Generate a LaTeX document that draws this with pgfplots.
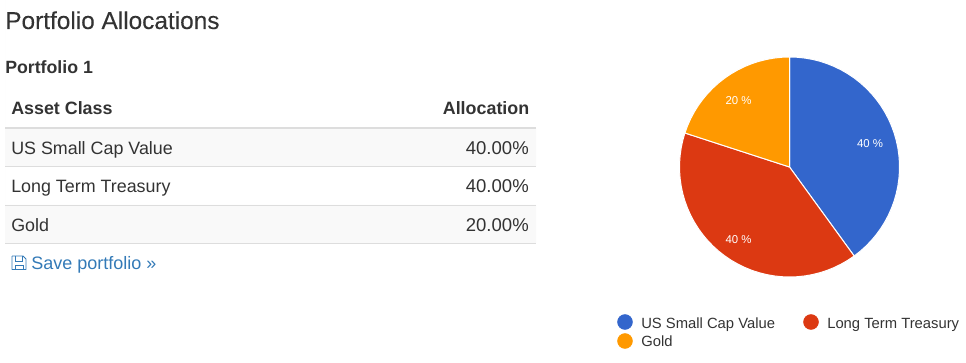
\documentclass[border=0pt]{standalone}
\usepackage{pgfplots}
\pgfplotsset{compat=1.18}
\usepackage{fontspec}
\setmainfont{Liberation Sans}
\newfontfamily\titlefont[FakeBold=0.12]{Liberation Sans}
\usepgfplotslibrary{polar}
\definecolor{txt}{HTML}{333333}
\definecolor{lnk}{HTML}{337AB7}
\definecolor{rule}{HTML}{DDDDDD}
\definecolor{stripe}{HTML}{F9F9F9}
\definecolor{pblue}{HTML}{3366CC}
\definecolor{pred}{HTML}{DC3912}
\definecolor{pgold}{HTML}{FF9900}
\newcommand{\fs}[1]{\fontsize{#1pt}{#1pt}\selectfont}
\begin{document}
\begin{tikzpicture}
\useasboundingbox (0,0) rectangle (724.5pt,272.25pt);
\begin{axis}[name=page,at={(0,0)},anchor=south west,scale only axis,width=724.5pt,height=272.25pt,
  xmin=0,xmax=966,ymin=0,ymax=363,y dir=reverse,hide axis,clip=false]
% table stripes
\addplot[draw=none,fill=stripe] coordinates {(5,128) (536,128) (536,166) (5,166)} \closedcycle;
\addplot[draw=none,fill=stripe] coordinates {(5,205) (536,205) (536,243) (5,243)} \closedcycle;
% rules
\addplot[rule,line width=1.5pt] coordinates {(5,128) (536,128)};
\addplot[rule,line width=0.75pt] coordinates {(5,166.5) (536,166.5)};
\addplot[rule,line width=0.75pt] coordinates {(5,205.5) (536,205.5)};
\addplot[rule,line width=0.75pt] coordinates {(5,243.5) (536,243.5)};
% texts
\node[anchor=base west,inner sep=0,text=txt,font=\titlefont\fs{18.3}] at (axis cs:5,29) {Portfolio Allocations};
\node[anchor=base west,inner sep=0,text=txt,font=\fs{13.3}\bfseries] at (axis cs:5,73.5) {Portfolio 1};
\node[anchor=base west,inner sep=0,text=txt,font=\fs{13.4}\bfseries] at (axis cs:11,115) {Asset Class};
\node[anchor=base east,inner sep=0,text=txt,font=\fs{13.4}\bfseries] at (axis cs:529.5,115) {Allocation};
\node[anchor=base west,inner sep=0,text=txt,font=\fs{13.4}] at (axis cs:11,155) {US Small Cap Value};
\node[anchor=base east,inner sep=0,text=txt,font=\fs{13.9}] at (axis cs:529,155) {40.00\%};
\node[anchor=base west,inner sep=0,text=txt,font=\fs{13.4}] at (axis cs:11,193) {Long Term Treasury};
\node[anchor=base east,inner sep=0,text=txt,font=\fs{13.9}] at (axis cs:529,193) {40.00\%};
\node[anchor=base west,inner sep=0,text=txt,font=\fs{13.4}] at (axis cs:11,231.5) {Gold};
\node[anchor=base east,inner sep=0,text=txt,font=\fs{13.9}] at (axis cs:529,231.5) {20.00\%};
\node[anchor=base west,inner sep=0,text=lnk,font=\fs{13.5}] at (axis cs:31,269) {Save portfolio »};
% floppy icon
\addplot[lnk,line width=0.7pt,line join=round] coordinates {(12,256) (23,256) (26,259) (26,269.5) (12,269.5) (12,256)};
\addplot[lnk,line width=0.7pt] coordinates {(15,256) (15,261) (22,261) (22,256)};
\addplot[lnk,line width=0.7pt] coordinates {(15,269.5) (15,265) (23,265) (23,269.5)};
% legend
\addplot[only marks,mark=*,mark size=5.6pt,color=pblue,mark options={draw=none}] coordinates {(625,322)};
\addplot[only marks,mark=*,mark size=5.6pt,color=pred,mark options={draw=none}] coordinates {(811,322)};
\addplot[only marks,mark=*,mark size=5.6pt,color=pgold,mark options={draw=none}] coordinates {(625,341)};
\node[anchor=base west,inner sep=0,text=txt,font=\fs{11.1}] at (axis cs:641,328) {US Small Cap Value};
\node[anchor=base west,inner sep=0,text=txt,font=\fs{11.1}] at (axis cs:827,328) {Long Term Treasury};
\node[anchor=base west,inner sep=0,text=txt,font=\fs{11.1}] at (axis cs:641,346.5) {Gold};
\end{axis}
\begin{axis}[at={(0,0)},anchor=south west,scale only axis,width=724.5pt,height=272.25pt,
  xmin=-789.5,xmax=176.5,ymin=-196,ymax=167,hide axis,clip=false]
\addplot[data cs=polar,fill=pblue,draw=white,line width=0.75pt,line join=round] coordinates {(0,0)
 (90,110)(86,110)(82,110)(78,110)(74,110)(70,110)(66,110)(62,110)(58,110)(54,110)(50,110)(46,110)(42,110)
 (38,110)(34,110)(30,110)(26,110)(22,110)(18,110)(14,110)(10,110)(6,110)(2,110)(-2,110)(-6,110)(-10,110)
 (-14,110)(-18,110)(-22,110)(-26,110)(-30,110)(-34,110)(-38,110)(-42,110)(-46,110)(-50,110)(-54,110)(0,0)};
\addplot[data cs=polar,fill=pred,draw=white,line width=0.75pt,line join=round] coordinates {(0,0)
 (-54,110)(-58,110)(-62,110)(-66,110)(-70,110)(-74,110)(-78,110)(-82,110)(-86,110)(-90,110)(-94,110)(-98,110)
 (-102,110)(-106,110)(-110,110)(-114,110)(-118,110)(-122,110)(-126,110)(-130,110)(-134,110)(-138,110)(-142,110)
 (-146,110)(-150,110)(-154,110)(-158,110)(-162,110)(-166,110)(-170,110)(-174,110)(-178,110)(-182,110)(-186,110)
 (-190,110)(-194,110)(-198,110)(0,0)};
\addplot[data cs=polar,fill=pgold,draw=white,line width=0.75pt,line join=round] coordinates {(0,0)
 (-198,110)(-202,110)(-206,110)(-210,110)(-214,110)(-218,110)(-222,110)(-226,110)(-230,110)(-234,110)(-238,110)
 (-242,110)(-246,110)(-250,110)(-254,110)(-258,110)(-262,110)(-266,110)(-270,110)(0,0)};
\node[text=white,inner sep=0,font=\fs{8.55}] at (axis cs:80.5,23) {40 \%};
\node[text=white,inner sep=0,font=\fs{8.55}] at (axis cs:-51,-73) {40 \%};
\node[text=white,inner sep=0,font=\fs{8.55}] at (axis cs:-51,66) {20 \%};
\end{axis}
\end{tikzpicture}
\end{document}
